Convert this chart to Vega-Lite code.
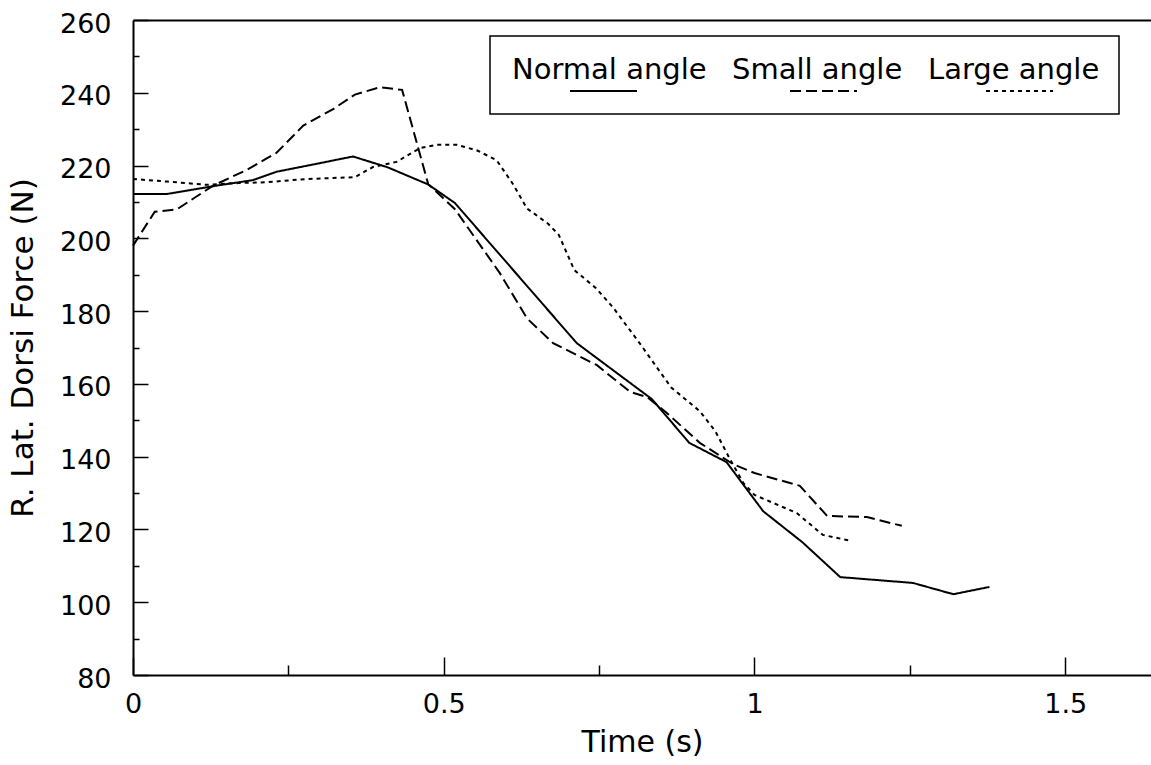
{
  "$schema": "https://vega.github.io/schema/vega-lite/v6.json",
  "autosize": {"type": "none"},
  "width": 1018,
  "height": 655,
  "padding": {"left": 133, "top": 20, "right": 0, "bottom": 90},
  "background": "white",
  "config": {
    "view": {"stroke": null},
    "font": "DejaVu Sans",
    "axis": {"grid": false, "domainColor": "black", "tickColor": "black", "labelColor": "black", "titleColor": "black", "labelFont": "DejaVu Sans", "titleFont": "DejaVu Sans", "titleFontWeight": "normal"}
  },
  "data": {"values": [
    {"series": "Normal angle", "t": 0, "f": 212.2},
    {"series": "Normal angle", "t": 0.055, "f": 212.2},
    {"series": "Normal angle", "t": 0.135, "f": 214.5},
    {"series": "Normal angle", "t": 0.193, "f": 216},
    {"series": "Normal angle", "t": 0.231, "f": 218.3},
    {"series": "Normal angle", "t": 0.296, "f": 220.5},
    {"series": "Normal angle", "t": 0.354, "f": 222.5},
    {"series": "Normal angle", "t": 0.41, "f": 219.5},
    {"series": "Normal angle", "t": 0.475, "f": 214.8},
    {"series": "Normal angle", "t": 0.518, "f": 209.7},
    {"series": "Normal angle", "t": 0.714, "f": 171.2},
    {"series": "Normal angle", "t": 0.835, "f": 155.8},
    {"series": "Normal angle", "t": 0.895, "f": 143.8},
    {"series": "Normal angle", "t": 0.955, "f": 138.5},
    {"series": "Normal angle", "t": 1.014, "f": 125},
    {"series": "Normal angle", "t": 1.077, "f": 116.5},
    {"series": "Normal angle", "t": 1.138, "f": 106.9},
    {"series": "Normal angle", "t": 1.255, "f": 105.3},
    {"series": "Normal angle", "t": 1.32, "f": 102.2},
    {"series": "Normal angle", "t": 1.378, "f": 104.2},
    {"series": "Small angle", "t": 0, "f": 198},
    {"series": "Small angle", "t": 0.035, "f": 207.3},
    {"series": "Small angle", "t": 0.071, "f": 208},
    {"series": "Small angle", "t": 0.129, "f": 214.5},
    {"series": "Small angle", "t": 0.183, "f": 218.8},
    {"series": "Small angle", "t": 0.231, "f": 223.5},
    {"series": "Small angle", "t": 0.274, "f": 231},
    {"series": "Small angle", "t": 0.322, "f": 235.5},
    {"series": "Small angle", "t": 0.357, "f": 239.5},
    {"series": "Small angle", "t": 0.397, "f": 241.5},
    {"series": "Small angle", "t": 0.433, "f": 240.8},
    {"series": "Small angle", "t": 0.475, "f": 214.9},
    {"series": "Small angle", "t": 0.518, "f": 208},
    {"series": "Small angle", "t": 0.59, "f": 190.5},
    {"series": "Small angle", "t": 0.634, "f": 178},
    {"series": "Small angle", "t": 0.676, "f": 171.2},
    {"series": "Small angle", "t": 0.746, "f": 165.2},
    {"series": "Small angle", "t": 0.8, "f": 157.8},
    {"series": "Small angle", "t": 0.827, "f": 156.4},
    {"series": "Small angle", "t": 0.859, "f": 152},
    {"series": "Small angle", "t": 0.912, "f": 143.8},
    {"series": "Small angle", "t": 0.965, "f": 138},
    {"series": "Small angle", "t": 1.0, "f": 135.5},
    {"series": "Small angle", "t": 1.073, "f": 132},
    {"series": "Small angle", "t": 1.117, "f": 123.7},
    {"series": "Small angle", "t": 1.181, "f": 123.4},
    {"series": "Small angle", "t": 1.237, "f": 121},
    {"series": "Large angle", "t": 0, "f": 216.3},
    {"series": "Large angle", "t": 0.055, "f": 215.6},
    {"series": "Large angle", "t": 0.119, "f": 214.7},
    {"series": "Large angle", "t": 0.17, "f": 215.2},
    {"series": "Large angle", "t": 0.215, "f": 215.4},
    {"series": "Large angle", "t": 0.27, "f": 216.2},
    {"series": "Large angle", "t": 0.322, "f": 216.6},
    {"series": "Large angle", "t": 0.357, "f": 216.8},
    {"series": "Large angle", "t": 0.386, "f": 219.6},
    {"series": "Large angle", "t": 0.424, "f": 221},
    {"series": "Large angle", "t": 0.462, "f": 224.8},
    {"series": "Large angle", "t": 0.489, "f": 225.7},
    {"series": "Large angle", "t": 0.521, "f": 225.7},
    {"series": "Large angle", "t": 0.553, "f": 224.2},
    {"series": "Large angle", "t": 0.585, "f": 221.5},
    {"series": "Large angle", "t": 0.611, "f": 215},
    {"series": "Large angle", "t": 0.634, "f": 208.2},
    {"series": "Large angle", "t": 0.668, "f": 204},
    {"series": "Large angle", "t": 0.685, "f": 201},
    {"series": "Large angle", "t": 0.71, "f": 191.3},
    {"series": "Large angle", "t": 0.745, "f": 186.3},
    {"series": "Large angle", "t": 0.772, "f": 181.1},
    {"series": "Large angle", "t": 0.816, "f": 171},
    {"series": "Large angle", "t": 0.866, "f": 159},
    {"series": "Large angle", "t": 0.912, "f": 152.5},
    {"series": "Large angle", "t": 0.937, "f": 147},
    {"series": "Large angle", "t": 0.96, "f": 139.5},
    {"series": "Large angle", "t": 0.982, "f": 132.8},
    {"series": "Large angle", "t": 1.0, "f": 129.5},
    {"series": "Large angle", "t": 1.068, "f": 124.5},
    {"series": "Large angle", "t": 1.11, "f": 118.5},
    {"series": "Large angle", "t": 1.157, "f": 116.8}
  ]},
  "layer": [
    {
      "mark": {"type": "line", "color": "black", "strokeWidth": 2},
      "encoding": {
        "x": {"field": "t", "type": "quantitative",
          "scale": {"domain": [0, 1.638], "nice": false, "zero": false},
          "axis": {"orient": "bottom", "values": [0, 0.5, 1, 1.5], "format": "~g", "tickSize": -18, "tickWidth": 1.5, "domainWidth": 2, "labelPadding": 34, "labelFontSize": 27, "labelFlush": false, "title": "Time (s)", "titleFontSize": 30, "titlePadding": 10}},
        "y": {"field": "f", "type": "quantitative",
          "scale": {"domain": [80, 260], "nice": false, "zero": false},
          "axis": {"orient": "left", "values": [80, 100, 120, 140, 160, 180, 200, 220, 240, 260], "tickSize": -15, "tickWidth": 1.5, "domainWidth": 2, "labelPadding": 37, "labelOffset": 4, "labelFontSize": 27, "labelFlush": false, "title": "R. Lat. Dorsi Force (N)", "titleFontSize": 31, "titlePadding": 20}},
        "strokeDash": {"field": "series", "type": "nominal",
          "scale": {"domain": ["Normal angle", "Small angle", "Large angle"], "range": [[1, 0], [11, 5], [4, 4]]},
          "legend": {
            "orient": "none", "legendX": 357, "legendY": 16, "direction": "horizontal", "title": null,
            "strokeColor": "black", "padding": 19,
            "labelFont": "DejaVu Sans", "labelFontSize": 29, "labelColor": "black", "labelLimit": 400,
            "symbolType": "stroke", "symbolSize": 4489, "symbolStrokeWidth": 2, "symbolStrokeColor": "black",
            "labelOffset": -126, "symbolOffset": 60, "columnPadding": 22,
            "encode": {
              "symbols": {"update": {"y": {"value": 36}}},
              "labels": {"update": {"y": {"value": 15}}},
              "legend": {"update": {"strokeWidth": {"value": 1.5}}}
            }
          }}
      }
    },
    {
      "mark": {"type": "line", "strokeOpacity": 0},
      "encoding": {
        "x": {"field": "t", "type": "quantitative",
          "axis": {"orient": "bottom", "values": [0.25, 0.75, 1.25], "tickSize": -10, "tickWidth": 1.5, "domain": false, "labels": false, "title": null}},
        "y": {"field": "f", "type": "quantitative",
          "axis": {"orient": "left", "values": [90, 110, 130, 150, 170, 190, 210, 230, 250], "tickSize": -6, "tickWidth": 1.5, "domain": false, "labels": false, "title": null}},
        "detail": {"field": "series", "type": "nominal"}
      }
    },
    {
      "mark": {"type": "line", "strokeOpacity": 0},
      "encoding": {
        "x": {"field": "t", "type": "quantitative",
          "axis": {"orient": "top", "domainWidth": 2, "ticks": false, "labels": false, "title": null}},
        "y": {"field": "f", "type": "quantitative", "axis": null},
        "detail": {"field": "series", "type": "nominal"}
      }
    }
  ],
  "resolve": {"axis": {"x": "independent", "y": "independent"}}
}
